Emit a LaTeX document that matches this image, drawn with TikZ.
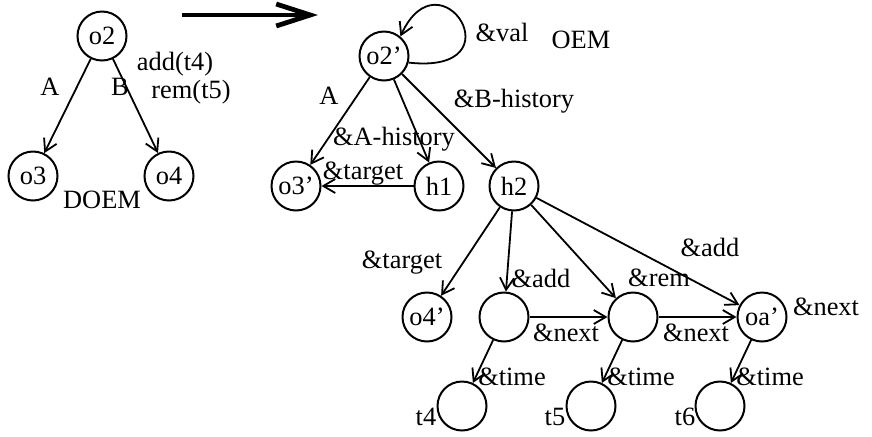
\documentclass[tikz,border=0pt]{standalone}
\usepackage{fontspec}
\setmainfont{Liberation Serif}
\usetikzlibrary{arrows.meta}

\begin{document}
\begin{tikzpicture}[x=0.5pt, y=-0.5pt, font=\fontsize{13.2}{15}\selectfont,
        obj/.style={circle, draw, line width=1pt, minimum size=24.5pt, inner sep=0pt},
        lbl/.style={inner sep=0pt},
        arrow/.style={-{Straight Barb[length=6pt,width=7pt]}, line width=0.9pt}
    ]
        \useasboundingbox (0,0) rectangle (872,436);

        % DOEM
        \node[obj] (o2) at (102,36) {o2};
        \node[obj] (o3) at (33,176) {o3};
        \node[obj] (o4) at (169,176) {o4};
        \draw[arrow] (o2) -- (o3);
        \draw[arrow] (o2) -- (o4);
        \node[lbl] (la) at (50,87) {A};
        \node[lbl] (lb) at (120,87) {B};
        \node[lbl] (ladd) at (175,64) {add(t4)};
        \node[lbl] (lrem) at (191,92) {rem(t5)};
        \node[lbl] (ldoem) at (102,200) {DOEM};

        % Big arrow
        \coordinate (bigs) at (182,15);
        \coordinate (bige) at (318,15);
        \draw[-{Straight Barb[length=17pt,width=11pt]}, line width=2.4pt] (bigs) -- (bige);

        % OEM, top part
        \node[obj] (o2p) at (384,56) {o2'};
        \node[obj] (o3p) at (296,186) {o3'};
        \node[obj] (h1) at (439,186) {h1};
        \node[obj] (h2) at (514,186) {h2};
        \draw[arrow] (o2p.-15) .. controls (520,75) and (440,-50) .. (o2p.50);
        \draw[arrow] (o2p) -- (o3p);
        \draw[arrow] (o2p) -- (h1);
        \draw[arrow] (o2p) -- (h2);
        \draw[arrow] (h1) -- (o3p);
        \node[lbl] (lval) at (502,32) {\&val};
        \node[lbl] (loem) at (581,40) {OEM};
        \node[lbl] (la2) at (329,96) {A};
        \node[lbl] (lbh) at (514,101) {\&B-history};
        \node[lbl] (lah) at (394,139) {\&A-history};
        \node[lbl] (ltg1) at (363,174) {\&target};

        % History of B
        \node[obj] (o4p) at (427,317) {o4'};
        \node[obj] (n1) at (504,317) {};
        \node[obj] (n2) at (633,317) {};
        \node[obj] (oap) at (762,317) {oa'};
        \node[obj] (t4) at (462,406) {};
        \node[obj] (t5) at (591,406) {};
        \node[obj] (t6) at (720,406) {};
        \draw[arrow] (h2) -- (o4p);
        \draw[arrow] (h2) -- (n1);
        \draw[arrow] (h2) -- (n2);
        \draw[arrow] (h2) -- (oap);
        \draw[arrow] (n1) -- (n2);
        \draw[arrow] (n2) -- (oap);
        \draw[arrow] (n1) -- (t4);
        \draw[arrow] (n2) -- (t5);
        \draw[arrow] (oap) -- (t6);
        \node[lbl] (ltg2) at (402,263) {\&target};
        \node[lbl] (ladd1) at (541,278) {\&add};
        \node[lbl] (lrem2) at (659,278) {\&rem};
        \node[lbl] (ladd2) at (710,247) {\&add};
        \node[lbl] (lnx1) at (566,333) {\&next};
        \node[lbl] (lnx2) at (696,333) {\&next};
        \node[lbl] (lnx3) at (826,307) {\&next};
        \node[lbl] (ltm1) at (512,377) {\&time};
        \node[lbl] (ltm2) at (641,377) {\&time};
        \node[lbl] (ltm3) at (770,377) {\&time};
        \node[lbl] (lt4) at (426,417) {t4};
        \node[lbl] (lt5) at (555,417) {t5};
        \node[lbl] (lt6) at (685,417) {t6};

    \end{tikzpicture}
\end{document}
